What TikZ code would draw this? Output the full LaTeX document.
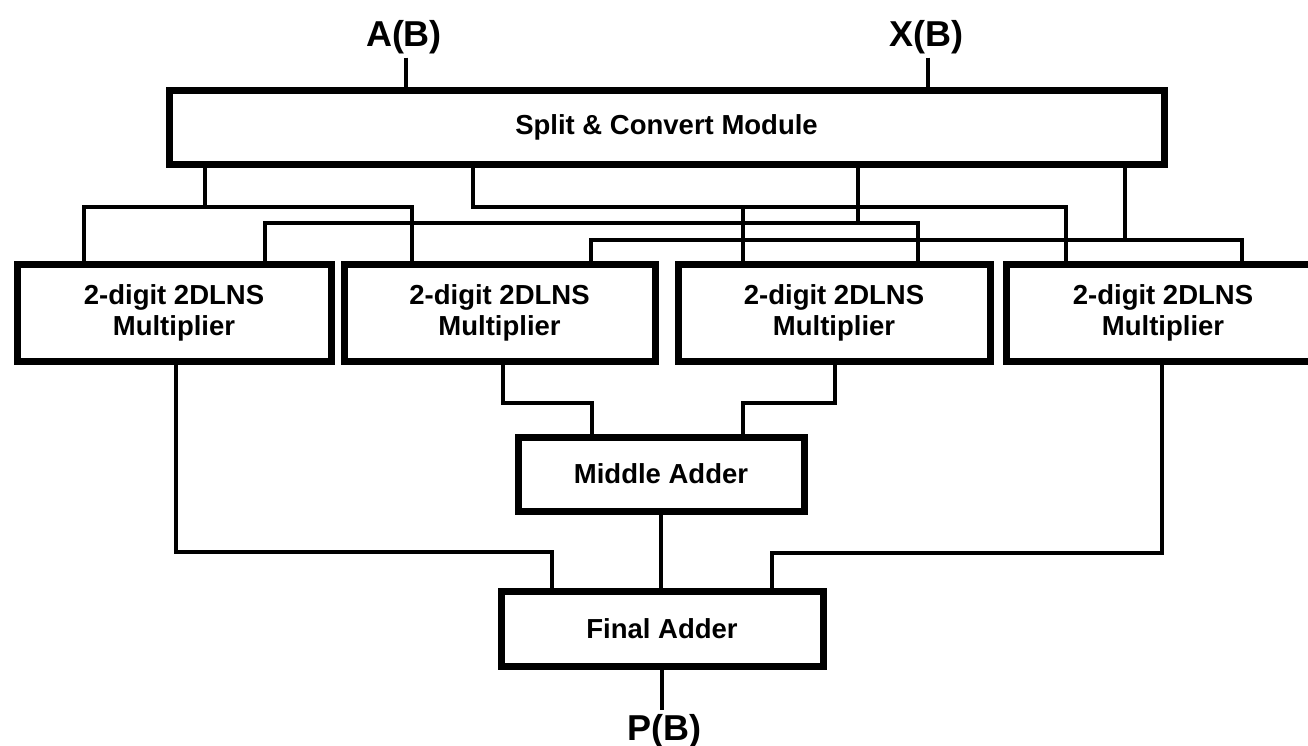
\documentclass[tikz,border=0pt]{standalone}
\usepackage{fontspec}
\setmainfont{Liberation Sans}
\begin{document}
\begin{tikzpicture}[x=1pt,y=-1pt,
  blk/.style={draw=black, line width=7pt, fill=white, inner sep=0pt, align=center,
    font=\bfseries\fontsize{27.5}{31}\selectfont},
  wire/.style={line width=3.5pt, line join=miter, line cap=rect},
  io/.style={inner sep=4pt, font=\bfseries\fontsize{36}{40}\selectfont}]
\useasboundingbox (0,0) rectangle (1308,745);
\clip (0,0) rectangle (1308,745);

% inputs / output labels
\node[io, anchor=base] (A) at (404,46) {A(B)};
\node[io, anchor=base] (X) at (926,46) {X(B)};
\node[io, anchor=base] (P) at (664,740) {P(B)};

% blocks
\node[blk, minimum width=995pt, minimum height=74pt] (split) at (666.5,127) {Split \& Convert Module};
\node[blk, minimum width=314pt, minimum height=97pt] (m1) at (174,312.5) {2-digit 2DLNS\\Multiplier};
\node[blk, minimum width=311pt, minimum height=97pt] (m2) at (499.5,312.5) {2-digit 2DLNS\\Multiplier};
\node[blk, minimum width=312pt, minimum height=97pt] (m3) at (834,312.5) {2-digit 2DLNS\\Multiplier};
\node[blk, minimum width=314pt, minimum height=97pt] (m4) at (1163,312.5) {2-digit 2DLNS\\Multiplier};
\node[blk, minimum width=286pt, minimum height=74pt] (mid) at (661,474) {Middle Adder};
\node[blk, minimum width=322pt, minimum height=75pt] (fin) at (662,628.5) {Final Adder};

% inputs into split module
\draw[wire, line cap=butt] (A.south -| 406,0) -- (split.north -| 406,0);
\draw[wire, line cap=butt] (X.south -| 928,0) -- (split.north -| 928,0);

% split outputs to multipliers
\draw[wire] (split.south -| 205,0) -- (205,207);
\draw[wire] (m1.north -| 84,0) -- (84,207) -- (412,207) -- (m2.north -| 412,0);

\draw[wire] (split.south -| 473,0) -- (473,207) -- (1066,207) -- (m4.north -| 1066,0);
\draw[wire] (743,207) -- (m3.north -| 743,0);

\draw[wire] (split.south -| 858,0) -- (858,223);
\draw[wire] (m1.north -| 265,0) -- (265,223) -- (918,223) -- (m3.north -| 918,0);

\draw[wire] (split.south -| 1125,0) -- (1125,240);
\draw[wire] (m2.north -| 591,0) -- (591,240) -- (1242,240) -- (m4.north -| 1242,0);

% multipliers to adders
\draw[wire] (m2.south -| 503,0) -- (503,403) -- (592,403) -- (mid.north -| 592,0);
\draw[wire] (m3.south -| 835,0) -- (835,403) -- (743,403) -- (mid.north -| 743,0);
\draw[wire] (m1.south -| 176,0) -- (176,552) -- (552,552) -- (fin.north -| 552,0);
\draw[wire] (m4.south -| 1162,0) -- (1162,553) -- (772,553) -- (fin.north -| 772,0);
\draw[wire] (mid.south) -- (fin.north -| mid.south);

% output
\draw[wire, line cap=butt] (fin.south) -- (P.north -| fin.south);
\end{tikzpicture}
\end{document}
